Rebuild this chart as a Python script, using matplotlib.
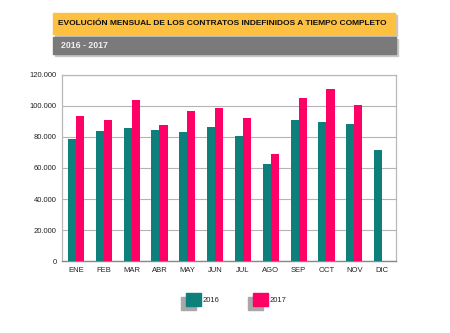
import matplotlib.pyplot as plt
import numpy as np
from matplotlib.patches import Rectangle
from matplotlib.ticker import FuncFormatter

months = ['ENE', 'FEB', 'MAR', 'ABR', 'MAY', 'JUN', 'JUL', 'AGO', 'SEP', 'OCT', 'NOV', 'DIC']
values_2016 = [78700, 83900, 86000, 84300, 83400, 86500, 80600, 62800, 90700, 89400, 88200, 71600]
values_2017 = [93300, 91200, 104100, 87700, 96500, 98900, 92000, 69200, 104900, 111000, 100600]
series_labels = ['2016', '2017']
title = 'EVOLUCIÓN MENSUAL DE LOS CONTRATOS INDEFINIDOS A TIEMPO COMPLETO'
subtitle = '2016 - 2017'

teal = '#0E7F7A'
pink = '#FF0066'

plt.rcParams['font.family'] = ['Liberation Sans', 'DejaVu Sans']

fig = plt.figure(figsize=(4.5, 3.33), dpi=100)
ax = fig.add_axes([0.138, 0.216, 0.742, 0.559])

x = np.arange(len(months))
width = 0.29
ax.bar(x[:len(values_2016)] - width / 2, values_2016, width, color=teal, zorder=3)
ax.bar(x[:len(values_2017)] + width / 2, values_2017, width, color=pink, zorder=3)

ax.set_xlim(-0.5, len(months) - 0.5)
ax.set_ylim(0, 120000)
ax.set_yticks(np.arange(0, 120001, 20000))
ax.yaxis.set_major_formatter(FuncFormatter(lambda v, p: f'{int(v):,}'.replace(',', '.')))
ax.set_xticks(x, months)
ax.tick_params(axis='both', labelsize=5.5, length=0, pad=4, labelcolor='#222222')
ax.grid(axis='y', color='#b4b4b4', linewidth=0.8, zorder=0)
for side in ['top', 'right', 'left']:
    ax.spines[side].set_color('#b8b8b8')
    ax.spines[side].set_linewidth(0.9)
ax.spines['bottom'].set_color('#888888')
ax.spines['bottom'].set_linewidth(1.0)

# Title boxes with shadow
W, H = 450, 333
def px_box(x0, y0, x1, y1, color, shadow=True):
    if shadow:
        fig.patches.append(Rectangle((x0 / W + 2 / W, 1 - (y1 + 2) / H), (x1 - x0) / W, (y1 - y0) / H,
                                     transform=fig.transFigure, color='#c8c8c8', zorder=0))
    fig.patches.append(Rectangle((x0 / W, 1 - y1 / H), (x1 - x0) / W, (y1 - y0) / H,
                                 transform=fig.transFigure, color=color, zorder=1))

px_box(53, 13, 395, 34, '#FDC040')
px_box(53, 37, 396, 54, '#7a7a7a')
fig.text(58 / W, 1 - 23.5 / H, title, fontsize=6.0, fontweight='bold', color='#111111',
         va='center', ha='left', zorder=2)
fig.text(61 / W, 1 - 45.5 / H, subtitle, fontsize=6.3, fontweight='bold', color='#f0f0f0',
         va='center', ha='left', zorder=2)

# Legend
for i, (lab, col) in enumerate(zip(series_labels, [teal, pink])):
    lx = 186 + i * 67
    ly = 293
    fig.patches.append(Rectangle(((lx - 5) / W, 1 - (ly + 17) / H), 15 / W, 13 / H,
                                 transform=fig.transFigure, color='#a8a8a8', zorder=1))
    fig.patches.append(Rectangle((lx / W, 1 - (ly + 13) / H), 15 / W, 13 / H,
                                 transform=fig.transFigure, color=col, zorder=2))
    fig.text((lx + 17) / W, 1 - (ly + 7) / H, lab, fontsize=5.5, color='#222222',
             va='center', ha='left')

fig.savefig('out.png', dpi=100)
